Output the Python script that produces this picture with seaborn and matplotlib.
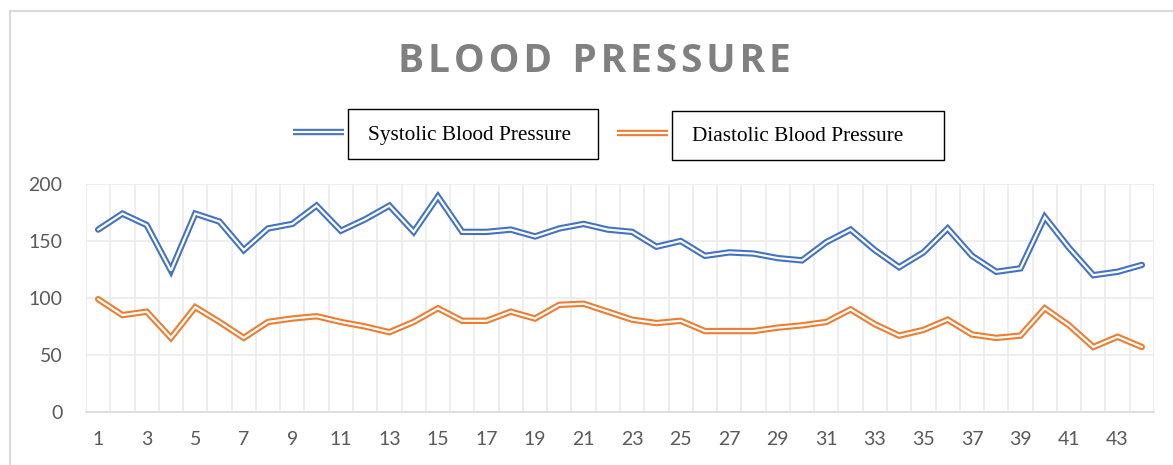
import matplotlib
matplotlib.use("Agg")
import matplotlib.pyplot as plt
from matplotlib.lines import Line2D
from matplotlib.patches import Rectangle
import seaborn as sns
import pandas as pd
import numpy as np

# readings 1..44
reading = list(range(1, 45))
systolic = [160, 174, 164, 124, 174, 167, 142, 161, 165, 181,
            159, 169, 181, 158, 189, 158, 158, 160, 154, 161,
            165, 160, 158, 145, 150, 137, 140, 139, 135, 133,
            149, 160, 142, 127, 140, 161, 137, 123, 126, 171,
            144, 120, 123, 129]
diastolic = [99, 85, 88, 65, 92, 79, 65, 79, 82, 84,
             79, 75, 70, 79, 91, 80, 80, 88, 82, 94,
             95, 88, 81, 78, 80, 71, 71, 71, 74, 76,
             79, 90, 77, 67, 72, 81, 68, 65, 67, 91,
             76, 57, 66, 57]
series_names = ["Systolic Blood Pressure", "Diastolic Blood Pressure"]
y_ticks = [0, 50, 100, 150, 200]
x_tick_labels = [str(i) for i in range(1, 44, 2)]

colors = ["#4472C4", "#ED7D31"]
W, H = 1173, 465
OUTER, INNER = 4.6, 1.6   # double line: colour stroke and white core

df = pd.DataFrame({"reading": reading * 2,
                   "value": systolic + diastolic,
                   "series": [series_names[0]] * 44 + [series_names[1]] * 44})

sns.set_style("white")
plt.rcParams['font.family'] = ['Lato', 'DejaVu Sans']

fig = plt.figure(figsize=(W / 100, H / 100), dpi=100)
ax = fig.add_axes([86 / W, 53 / H, 1068 / W, 228 / H])

for name, col in zip(series_names, colors):
    sub = df[df["series"] == name]
    sns.lineplot(data=sub, x="reading", y="value", color=col, lw=OUTER, ax=ax,
                 solid_joinstyle="miter", legend=False)
    sns.lineplot(data=sub, x="reading", y="value", color="white", lw=INNER, ax=ax,
                 solid_joinstyle="miter", legend=False)

ax.set_xlim(0.5, 44.5)
ax.set_ylim(0, 200)
ax.set_yticks(y_ticks)
ax.set_xticks(range(1, 44, 2))
ax.set_xticklabels(x_tick_labels)
ax.set_xticks(np.arange(0.5, 45, 1), minor=True)
ax.grid(True, axis="y", color="#ebebeb", lw=1.2)
ax.grid(True, axis="x", which="minor", color="#ebebeb", lw=1.2)
ax.grid(False, axis="x", which="major")
ax.set_axisbelow(True)
ax.tick_params(axis="both", which="both", length=0, labelsize=14, colors="#595959")
ax.tick_params(axis="x", pad=14)
ax.tick_params(axis="y", pad=17)
for s in ["top", "right", "left"]:
    ax.spines[s].set_visible(False)
ax.spines["bottom"].set_color("#d9d9d9")
ax.spines["bottom"].set_linewidth(1.2)
ax.set_xlabel("")
ax.set_ylabel("")

# outer chart border
fig.add_artist(Rectangle((9.5 / W, -0.1), 1.2, (H - 11.5) / H + 0.1,
                         transform=fig.transFigure, fill=False,
                         edgecolor="#d9d9d9", lw=1.5))

title = "\u200a".join("BLOOD") + "  " + "\u200a".join("PRESSURE")
fig.text(594 / W, 1 - 61 / H, title, ha="center", va="center",
         fontsize=28, fontweight="bold", color="#808080",
         family=["Open Sans", "DejaVu Sans"])

# legend: double-line sample outside a boxed label
legend_items = [
    # sample x0, x1, y, box x0, x1, y0, y1, text x, text y
    (293, 344, 132.5, 348, 598, 109, 159, 368, 133),
    (617, 668, 133, 672, 944, 111, 160, 692, 134),
]
for item, name, col in zip(legend_items, series_names, colors):
    sx0, sx1, sy, bx0, bx1, by0, by1, tx, ty = item
    for c, w in [(col, OUTER), ("white", INNER)]:
        fig.add_artist(Line2D([sx0 / W, sx1 / W], [1 - sy / H] * 2,
                              transform=fig.transFigure, color=c, lw=w,
                              solid_capstyle="butt"))
    fig.add_artist(Rectangle((bx0 / W, 1 - by1 / H), (bx1 - bx0) / W,
                             (by1 - by0) / H, transform=fig.transFigure,
                             fill=False, edgecolor="black", lw=1))
    fig.text(tx / W, 1 - ty / H, name, ha="left", va="center_baseline",
             fontsize=15.3, color="black", family=["Liberation Serif"])

fig.savefig("out.png", dpi=100)
